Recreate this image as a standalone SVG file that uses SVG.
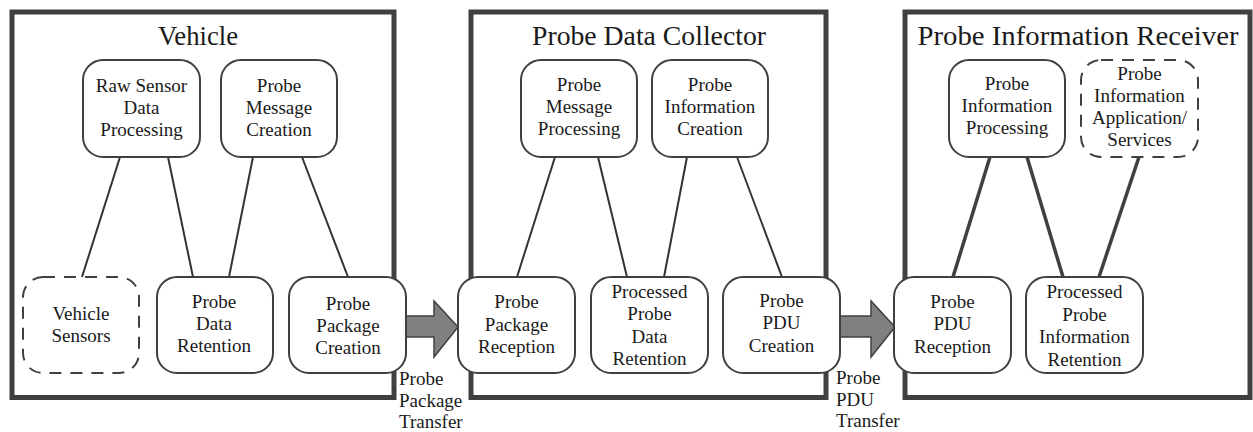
<svg xmlns="http://www.w3.org/2000/svg" width="1253" height="432" viewBox="0 0 1253 432">
<style>
.cont{fill:#fff;stroke:#404040;stroke-width:5}
.node{fill:#fff;stroke:#404040;stroke-width:2}
.dash{stroke-dasharray:12 9}
.t{font-family:"Liberation Serif",serif;font-size:19px;fill:#1a1a1a;text-anchor:middle}
.title{font-family:"Liberation Serif",serif;font-size:27px;fill:#1a1a1a;text-anchor:middle}
.lbl{font-family:"Liberation Serif",serif;font-size:19px;fill:#1a1a1a}
.c{stroke:#333;stroke-width:2;fill:none}
.c2{stroke:#404040;stroke-width:3.5;fill:none}
.arr{fill:#808080;stroke:#404040;stroke-width:1.5}
</style>
<rect width="1253" height="432" fill="#fff"/>
<g id="containers">
<g id="vehicle"><rect class="cont" x="12" y="12" width="382" height="385.5"/><text class="title" x="198" y="45" textLength="80" lengthAdjust="spacingAndGlyphs">Vehicle</text></g>
<g id="collector"><rect class="cont" x="471" y="12" width="355" height="385.5"/><text class="title" x="649" y="45" textLength="234" lengthAdjust="spacingAndGlyphs">Probe Data Collector</text></g>
<g id="receiver"><rect class="cont" x="905" y="12" width="345" height="385.5"/><text class="title" x="1078" y="45" textLength="321" lengthAdjust="spacingAndGlyphs">Probe Information Receiver</text></g>
</g>
<g id="connectors">
<line class="c" x1="120" y1="157" x2="82" y2="277"/>
<line class="c" x1="168" y1="157" x2="193" y2="277"/>
<line class="c" x1="253" y1="157" x2="229" y2="277"/>
<line class="c" x1="302" y1="157" x2="348" y2="277"/>
<line class="c" x1="555" y1="157" x2="517" y2="277"/>
<line class="c" x1="598" y1="157" x2="627" y2="277"/>
<line class="c" x1="687" y1="157" x2="664" y2="277"/>
<line class="c" x1="737" y1="157" x2="782" y2="277"/>
<line class="c2" x1="990" y1="157" x2="953" y2="277"/>
<line class="c2" x1="1027" y1="157" x2="1063" y2="277"/>
<line class="c2" x1="1139" y1="157" x2="1099" y2="277"/>
<polygon class="arr" points="405,316 434,316 434,301 458,327 434,357 434,337 405,337"/>
<polygon class="arr" points="840,316 871,316 871,301 895,327 871,357 871,337 840,337"/>
<text class="lbl" x="399" y="385"><tspan x="399">Probe</tspan><tspan x="399" y="407">Package</tspan><tspan x="399" y="428">Transfer</tspan></text>
<text class="lbl" x="836" y="384"><tspan x="836">Probe</tspan><tspan x="836" y="406">PDU</tspan><tspan x="836" y="427">Transfer</tspan></text>
</g>
<g id="rsdp"><rect class="node" x="83" y="60" width="117" height="97" rx="20"/><text class="t" y="92"><tspan x="141.5">Raw Sensor</tspan><tspan x="141.5" y="114">Data</tspan><tspan x="141.5" y="136">Processing</tspan></text></g>
<g id="pmc"><rect class="node" x="221" y="60" width="116" height="97" rx="20"/><text class="t" y="92"><tspan x="279">Probe</tspan><tspan x="279" y="114">Message</tspan><tspan x="279" y="136">Creation</tspan></text></g>
<g id="vs"><rect class="node dash" x="23" y="277" width="116" height="96" rx="20"/><text class="t" y="320"><tspan x="81">Vehicle</tspan><tspan x="81" y="342">Sensors</tspan></text></g>
<g id="pdr"><rect class="node" x="157" y="277" width="116" height="96" rx="20"/><text class="t" y="308"><tspan x="214">Probe</tspan><tspan x="214" y="330">Data</tspan><tspan x="214" y="352">Retention</tspan></text></g>
<g id="ppc"><rect class="node" x="289" y="277" width="117" height="96" rx="20"/><text class="t" y="310"><tspan x="348">Probe</tspan><tspan x="348" y="332">Package</tspan><tspan x="348" y="354">Creation</tspan></text></g>
<g id="pmp"><rect class="node" x="521" y="60" width="116" height="97" rx="20"/><text class="t" y="91"><tspan x="579">Probe</tspan><tspan x="579" y="113">Message</tspan><tspan x="579" y="135">Processing</tspan></text></g>
<g id="pic"><rect class="node" x="652" y="60" width="116" height="97" rx="20"/><text class="t" y="91"><tspan x="710">Probe</tspan><tspan x="710" y="113">Information</tspan><tspan x="710" y="135">Creation</tspan></text></g>
<g id="ppr"><rect class="node" x="458" y="277" width="117" height="96" rx="20"/><text class="t" y="308"><tspan x="516.5">Probe</tspan><tspan x="516.5" y="331">Package</tspan><tspan x="516.5" y="353">Reception</tspan></text></g>
<g id="ppdr"><rect class="node" x="591" y="277" width="117" height="96" rx="20"/><text class="t" y="298"><tspan x="649.5">Processed</tspan><tspan x="649.5" y="320">Probe</tspan><tspan x="649.5" y="343">Data</tspan><tspan x="649.5" y="365">Retention</tspan></text></g>
<g id="pduc"><rect class="node" x="723" y="277" width="117" height="96" rx="20"/><text class="t" y="307"><tspan x="781.5">Probe</tspan><tspan x="781.5" y="329">PDU</tspan><tspan x="781.5" y="352">Creation</tspan></text></g>
<g id="pip"><rect class="node" x="949" y="60" width="116" height="97" rx="20"/><text class="t" y="90"><tspan x="1007">Probe</tspan><tspan x="1007" y="112">Information</tspan><tspan x="1007" y="134">Processing</tspan></text></g>
<g id="pias"><rect class="node dash" x="1081" y="60" width="117" height="97" rx="20"/><text class="t" y="80"><tspan x="1139.5">Probe</tspan><tspan x="1139.5" y="102">Information</tspan><tspan x="1139.5" y="124">Application/</tspan><tspan x="1139.5" y="146">Services</tspan></text></g>
<g id="pdur"><rect class="node" x="894" y="277" width="117" height="96" rx="20"/><text class="t" y="308"><tspan x="952.5">Probe</tspan><tspan x="952.5" y="330">PDU</tspan><tspan x="952.5" y="353">Reception</tspan></text></g>
<g id="ppir"><rect class="node" x="1026" y="277" width="117" height="96" rx="20"/><text class="t" y="298"><tspan x="1084.5">Processed</tspan><tspan x="1084.5" y="321">Probe</tspan><tspan x="1084.5" y="343">Information</tspan><tspan x="1084.5" y="366">Retention</tspan></text></g>
</svg>
